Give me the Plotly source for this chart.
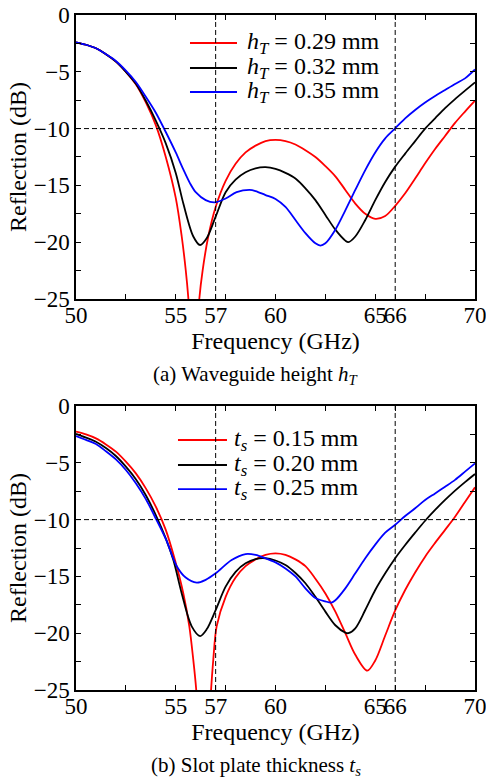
import plotly.graph_objects as go

# ---------------- data ----------------
# (a) Waveguide height h_T
a_names = ["<i>h</i><sub><i>T</i></sub> = 0.29 mm",
           "<i>h</i><sub><i>T</i></sub> = 0.32 mm",
           "<i>h</i><sub><i>T</i></sub> = 0.35 mm"]

a_f029 = [50, 50.5, 51, 51.5, 52, 52.5, 53, 53.5, 54, 54.5, 55, 55.3, 55.5, 55.63, 55.78,
          55.9, 56.03, 56.18, 56.35, 56.63, 57, 57.5, 58, 58.5, 59, 59.5, 60, 60.5, 61, 61.5,
          62, 62.5, 63, 63.5, 64, 64.5, 65, 65.5, 66, 66.5, 67, 67.5, 68, 68.5, 69, 69.5, 70]
a_r029 = [-2.4, -2.62, -2.93, -3.45, -4.1, -5.0, -6.1, -7.7, -9.7, -12.5, -16.1, -19.5, -22.45,
          -24.9, -29, -34, -29, -25, -22.45, -19.5, -16.9, -14.6, -13.1, -12.1, -11.5, -11.1,
          -11.0, -11.1, -11.4, -11.9, -12.5, -13.3, -14.2, -15.4, -16.6, -17.5, -17.95, -17.7,
          -16.8, -15.7, -14.4, -13.06, -11.8, -10.65, -9.5, -8.5, -7.54]

a_f032 = [50, 50.5, 51, 51.5, 52, 52.5, 53, 53.5, 54, 54.5, 55, 55.38, 55.88, 56.22, 56.55,
          57, 57.5, 58, 58.5, 59, 59.5, 60, 60.5, 61, 61.5, 62, 62.5, 63, 63.5, 63.65, 64,
          64.5, 65, 65.5, 66, 66.5, 67, 67.5, 68, 68.5, 69, 69.5, 70]
a_r032 = [-2.4, -2.62, -2.93, -3.45, -4.1, -5.0, -6.05, -7.55, -9.3, -11.3, -13.9, -16.6, -19.5,
          -20.25, -19.66, -17.75, -15.6, -14.5, -13.85, -13.5, -13.4, -13.55, -13.9, -14.4,
          -15.26, -16.3, -17.6, -18.9, -19.86, -20.0, -19.5, -18.05, -16.3, -14.7, -13.35,
          -12.2, -11.1, -10.0, -9.1, -8.2, -7.4, -6.66, -5.93]

a_f035 = [50, 50.5, 51, 51.5, 52, 52.5, 53, 53.5, 54, 54.5, 55, 55.38, 55.71, 56, 56.5, 56.95,
          57.5, 58.05, 58.7, 59, 59.5, 60, 60.5, 61, 61.5, 62, 62.25, 62.5, 63, 63.5, 64, 64.5,
          65, 65.5, 66, 66.5, 67, 67.5, 68, 68.5, 69, 69.5, 70]
a_r035 = [-2.4, -2.62, -2.93, -3.45, -4.05, -4.9, -5.9, -7.2, -8.6, -10.3, -12.1, -13.6, -14.8,
          -15.6, -16.3, -16.5, -16.15, -15.6, -15.4, -15.5, -15.85, -16.2, -16.9, -18.05,
          -19.2, -20.1, -20.3, -20.1, -18.9, -17.2, -15.4, -13.65, -12.1, -10.86, -9.98, -9.1,
          -8.36, -7.7, -7.13, -6.6, -6.07, -5.58, -4.8]

# (b) Slot plate thickness t_s
b_names = ["<i>t</i><sub><i>s</i></sub> = 0.15 mm",
           "<i>t</i><sub><i>s</i></sub> = 0.20 mm",
           "<i>t</i><sub><i>s</i></sub> = 0.25 mm"]

b_f015 = [50, 50.5, 51, 51.5, 52, 52.5, 53, 53.5, 54, 54.5, 54.96, 55.38, 55.68, 55.88, 56.02,
          56.2, 56.4, 56.6, 56.77, 56.88, 57.05, 57.5, 58, 58.5, 59, 59.5, 60, 60.5, 61, 61.5,
          62, 62.5, 63, 63.5, 64, 64.6, 65, 65.5, 66, 66.5, 67, 67.5, 68, 68.5, 69, 69.5, 70]
b_r015 = [-2.26, -2.5, -2.85, -3.38, -4.02, -4.9, -5.93, -7.25, -8.86, -10.9, -13.56, -16.5,
          -19.4, -22.36, -24.85, -30, -36, -30, -25, -22.36, -19.4, -16.8, -15.1, -14.1,
          -13.5, -13.1, -12.97, -13.1, -13.5, -14.1, -15.2, -16.5, -18.1, -20.0, -21.9,
          -23.3, -22.4, -20.2, -18.0, -16.2, -14.65, -13.26, -12.05, -10.9, -9.74, -8.45, -7.16]

b_f020 = [50, 50.5, 51, 51.5, 52, 52.5, 53, 53.5, 54, 54.5, 54.88, 55.3, 55.8, 56.22, 56.55,
          57, 57.5, 58, 58.5, 59, 59.5, 60, 60.5, 61, 61.5, 62, 62.5, 63, 63.5, 63.65, 64,
          64.5, 65, 65.5, 66, 66.5, 67, 67.5, 68, 68.5, 69, 69.5, 70]
b_r020 = [-2.46, -2.78, -3.14, -3.7, -4.4, -5.34, -6.45, -7.85, -9.6, -11.65, -13.56, -16.5,
          -19.4, -20.25, -19.66, -17.96, -15.9, -14.6, -13.85, -13.47, -13.4, -13.6, -14.0,
          -14.7, -15.6, -16.8, -18.1, -19.3, -19.95, -20.0, -19.57, -17.96, -16.2, -14.73,
          -13.4, -12.24, -11.15, -10.1, -9.15, -8.27, -7.45, -6.7, -5.99]

b_f025 = [50, 50.5, 51, 51.5, 52, 52.5, 53, 53.5, 54, 54.5, 55.05, 55.5, 56.05, 56.5, 57, 57.8,
          58.5, 59, 59.5, 60, 60.5, 61, 61.5, 62, 62.5, 62.8, 63, 63.5, 64, 64.5, 65, 65.5, 66,
          66.5, 67, 67.5, 68, 68.5, 69, 69.5, 70]
b_r025 = [-2.64, -2.98, -3.35, -3.98, -4.7, -5.63, -6.8, -8.2, -9.9, -11.7, -14.1, -15.1,
          -15.55, -15.3, -14.73, -13.56, -13.03, -13.1, -13.4, -13.76, -14.3, -15.0, -16.05,
          -16.9, -17.2, -17.3, -17.1, -16.05, -14.73, -13.4, -12.2, -11.15, -10.45, -9.68,
          -9.0, -8.27, -7.69, -7.1, -6.5, -5.78, -5.05]

colors = ["#ff0000", "#000000", "#0000ff"]

# axis ticks / reference lines
x_tickvals = [50, 52.5, 55, 57, 57.5, 60, 62.5, 65, 66, 67.5, 70]
x_ticktext = ["50", " ", "55", "57", " ", "60", " ", "65", "66", " ", "70"]
y_tickvals = [-25, -22.5, -20, -17.5, -15, -12.5, -10, -7.5, -5, -2.5, 0]
y_ticktext = ["\u221225", " ", "\u221220", " ", "\u221215", " ", "\u221210", " ", "\u22125", " ", "0"]
ref_freqs = [57, 66]
ref_level = -10
x_range = [50, 70]
y_range = [-25, 0]

captions = ["(a) Waveguide height <i>h</i><sub><i>T</i></sub>",
            "(b) Slot plate thickness <i>t</i><sub><i>s</i></sub>"]

# ---------------- figure ----------------
FONT = "Liberation Serif, Times New Roman, DejaVu Serif, serif"
fig = go.Figure()

panels = [
    ([(a_f029, a_r029), (a_f032, a_r032), (a_f035, a_r035)], a_names, "x", "y"),
    ([(b_f015, b_r015), (b_f020, b_r020), (b_f025, b_r025)], b_names, "x2", "y2"),
]

shapes = []
annotations = []

# legend placement (in axis-domain fractions) for each panel
legend_pos = [
    dict(x0=0.2857, x1=0.4035, xt=0.4236, rows=[0.9014, 0.8134, 0.7289]),
    dict(x0=0.2556, x1=0.3784, xt=0.3910, rows=[0.8803, 0.7923, 0.7077]),
]

for (series, names, xa, ya), lp in zip(panels, legend_pos):
    for (f, r), name, c, row in zip(series, names, colors, lp["rows"]):
        fig.add_trace(go.Scatter(x=f, y=r, mode="lines", name=name, xaxis=xa, yaxis=ya,
                                 showlegend=False, hoverinfo="skip",
                                 line=dict(color=c, width=1.8, shape="spline", smoothing=0.9)))
        # legend sample line + label
        shapes.append(dict(type="line", xref=f"{xa} domain", yref=f"{ya} domain",
                           x0=lp["x0"], x1=lp["x1"], y0=row, y1=row,
                           line=dict(color=c, width=1.8), layer="above"))
        annotations.append(dict(text=name, xref=f"{xa} domain", yref=f"{ya} domain",
                                x=lp["xt"], y=row, xanchor="left", yanchor="middle",
                                showarrow=False,
                                font=dict(family=FONT, size=24, color="black")))

for xa, ya in [("x", "y"), ("x2", "y2")]:
    shapes.append(dict(type="line", xref=xa, yref=ya, x0=x_range[0], x1=x_range[1],
                       y0=ref_level, y1=ref_level,
                       line=dict(color="black", width=1, dash="5px,3px"), layer="above"))
    for fv in ref_freqs:
        shapes.append(dict(type="line", xref=xa, yref=ya, x0=fv, x1=fv,
                           y0=y_range[0], y1=y_range[1],
                           line=dict(color="black", width=1, dash="5px,3px"), layer="above"))

common_x = dict(range=x_range, tickvals=x_tickvals, ticktext=x_ticktext, ticks="inside",
                ticklen=5, tickwidth=1, tickcolor="black", showline=True, linecolor="black",
                linewidth=1.5, mirror="ticks", showgrid=False, zeroline=False, tickangle=0,
                automargin=False, ticklabeloverflow="allow", ticklabelstandoff=-5,
                tickfont=dict(family=FONT, size=23, color="black"),
                title=dict(text="Frequency (GHz)", font=dict(family=FONT, size=24, color="black"),
                           standoff=4))
common_y = dict(range=y_range, tickvals=y_tickvals, ticktext=y_ticktext, ticks="inside",
                ticklen=5, tickwidth=1, tickcolor="black", showline=True, linecolor="black",
                linewidth=1.5, mirror="ticks", showgrid=False, zeroline=False, tickangle=0,
                automargin=False, ticklabeloverflow="allow",
                tickfont=dict(family=FONT, size=23, color="black"),
                title=dict(text="Reflection (dB)", font=dict(family=FONT, size=24, color="black"),
                           standoff=0))

annotations += [
    dict(text=captions[0], xref="paper", yref="paper", x=0.451, y=0.467,
         xanchor="center", yanchor="middle", showarrow=False,
         font=dict(family=FONT, size=21, color="black")),
    dict(text=captions[1], xref="paper", yref="paper", x=0.451, y=-0.113,
         xanchor="center", yanchor="middle", showarrow=False,
         font=dict(family=FONT, size=21, color="black")),
]

fig.update_layout(
    width=486, height=782,
    margin=dict(l=76, r=11, t=15, b=92, autoexpand=False),
    paper_bgcolor="white", plot_bgcolor="white",
    font=dict(family=FONT, color="black"),
    xaxis=dict(domain=[0, 1], anchor="y", **common_x),
    yaxis=dict(domain=[0.5793, 1], anchor="x", **common_y),
    xaxis2=dict(domain=[0, 1], anchor="y2", **common_x),
    yaxis2=dict(domain=[0, 0.4207], anchor="x2", **common_y),
    shapes=shapes,
    annotations=annotations,
    showlegend=False,
    hovermode=False,
)

fig.write_html("out.html", config={"displayModeBar": False},
               post_script="document.body.style.margin='0px';")
